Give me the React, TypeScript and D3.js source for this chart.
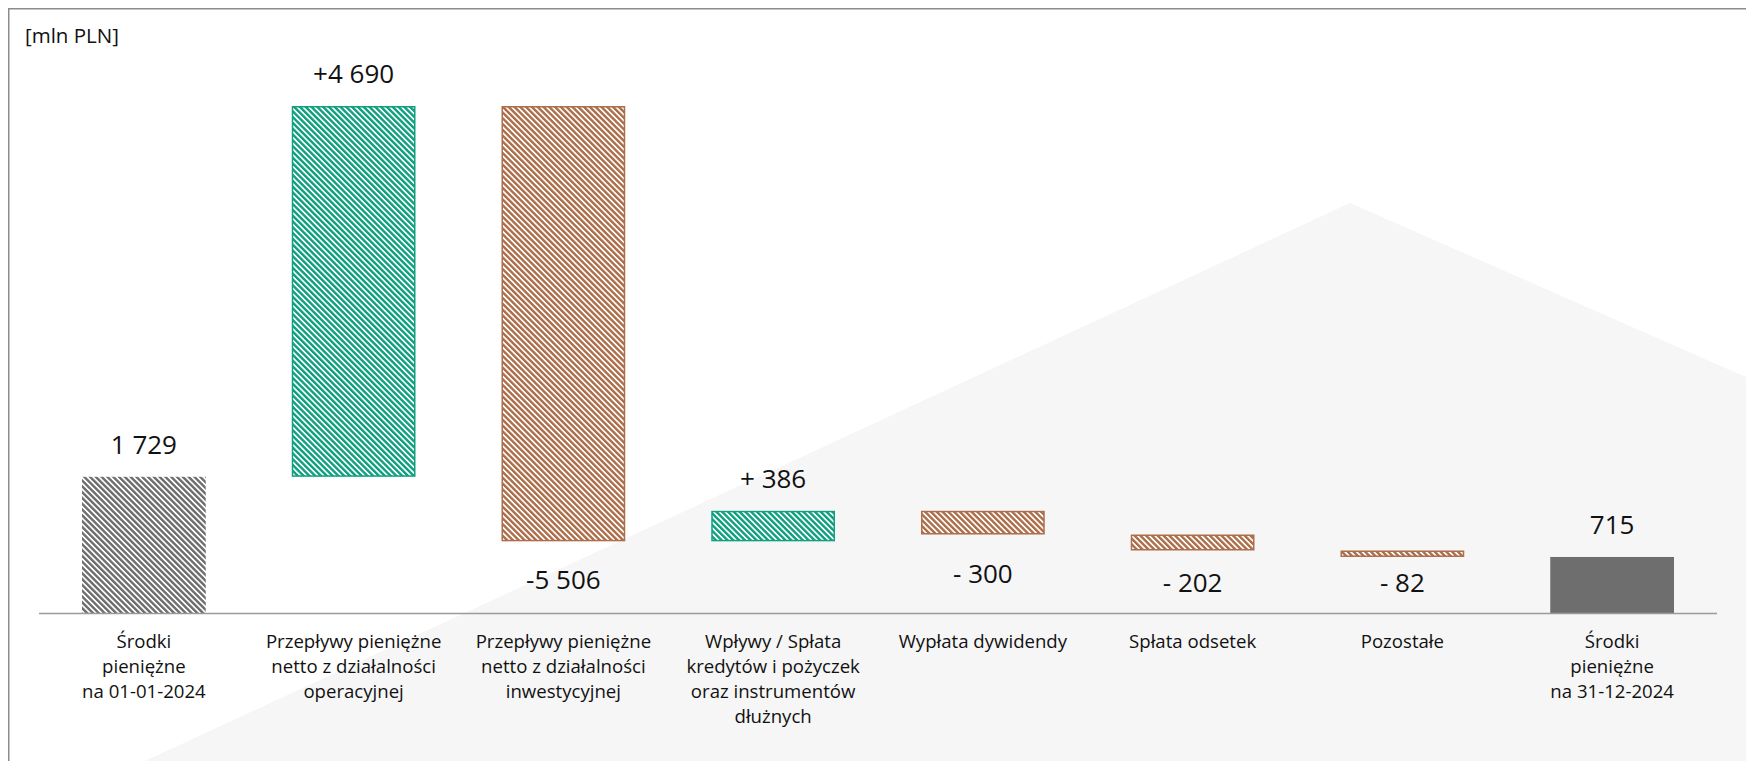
import React from "react";
import * as d3 from "d3";

const categories: string[][] = [
  ["Środki", "pieniężne", "na 01-01-2024"],
  ["Przepływy pieniężne", "netto z działalności", "operacyjnej"],
  ["Przepływy pieniężne", "netto z działalności", "inwestycyjnej"],
  ["Wpływy / Spłata", "kredytów i pożyczek", "oraz instrumentów", "dłużnych"],
  ["Wypłata dywidendy"],
  ["Spłata odsetek"],
  ["Pozostałe"],
  ["Środki", "pieniężne", "na 31-12-2024"],
];
const values: number[] = [1729, 4690, -5506, 386, -300, -202, -82, 715];
const kinds: string[] = ["start", "delta", "delta", "delta", "delta", "delta", "delta", "end"];
const valueLabels: string[] = ["1 729", "+4 690", "-5 506", "+ 386", "- 300", "- 202", "- 82", "715"];
const unitLabel = "[mln PLN]";

const W = 1746;
const H = 761;
const FONT = "'Open Sans', 'Noto Sans', sans-serif";
const GREEN = "#0fa080";
const BROWN = "#ad6e4a";
const GREY = "#6e6e6e";

export default function App() {
  let cum = 0;
  const segs = values.map((v, i) => {
    let y0: number, y1: number;
    if (kinds[i] === "delta") {
      y0 = cum;
      y1 = cum + v;
      cum = y1;
    } else {
      y0 = 0;
      y1 = v;
      cum = v;
    }
    return { i, v, lo: Math.min(y0, y1), hi: Math.max(y0, y1), kind: kinds[i] };
  });
  const maxVal = d3.max(segs, (s) => s.hi) as number;

  const x = d3
    .scaleBand<number>()
    .domain(values.map((_, i) => i))
    .range([39, 1717])
    .paddingInner(0.41)
    .paddingOuter(0.205);
  const y = d3.scaleLinear().domain([0, maxVal]).range([613.5, 106]);

  const fillFor = (s: { v: number; kind: string }) => {
    if (s.kind === "start") return "url(#hatch-grey)";
    if (s.kind === "end") return GREY;
    return s.v >= 0 ? "url(#hatch-green)" : "url(#hatch-brown)";
  };
  const strokeFor = (s: { v: number; kind: string }) => {
    if (s.kind === "delta") return s.v >= 0 ? GREEN : BROWN;
    return "none";
  };

  const bgPoly: [number, number][] = [
    [145, 761],
    [1350, 203],
    [1746, 377],
    [1746, 761],
  ];

  return (
    <svg
      width={W}
      height={H}
      style={{ position: "fixed", left: 0, top: 0, background: "#ffffff" }}
      fontFamily={FONT}
    >
      <defs>
        {[
          ["hatch-grey", GREY],
          ["hatch-green", GREEN],
          ["hatch-brown", BROWN],
        ].map(([id, c]) => (
          <pattern
            key={id}
            id={id}
            patternUnits="userSpaceOnUse"
            width={4.1}
            height={4.1}
            patternTransform="rotate(-45)"
          >
            <rect x={0} y={0} width={4.1} height={4.1} fill="#ffffff" />
            <rect x={0} y={0} width={2.4} height={4.1} fill={c} />
          </pattern>
        ))}
      </defs>
      <rect x={0} y={0} width={W} height={H} fill="#ffffff" />
      <polygon points={bgPoly.map((p) => p.join(",")).join(" ")} fill="#f6f6f6" />
      <path d={`M8.75,${H} L8.75,8.75 L${W},8.75`} fill="none" stroke="#8c8c8c" strokeWidth={1.5} />

      <text x={25} y={43} fontSize={20.5} fill="#111111">
        {unitLabel}
      </text>

      {segs.map((s) => {
        const bx = x(s.i) as number;
        const bw = x.bandwidth();
        const top = y(s.hi);
        const bot = y(s.lo);
        const stroke = strokeFor(s);
        const hasStroke = stroke !== "none";
        return (
          <rect
            key={s.i}
            x={hasStroke ? bx + 0.75 : bx}
            y={hasStroke ? top + 0.75 : top}
            width={hasStroke ? bw - 1.5 : bw}
            height={hasStroke ? Math.max(bot - top - 1.5, 0.5) : bot - top}
            fill={fillFor(s)}
            stroke={stroke}
            strokeWidth={hasStroke ? 1.5 : 0}
          />
        );
      })}

      <line x1={39} x2={1717} y1={613.5} y2={613.5} stroke="#9a9a9a" strokeWidth={1.5} />

      {segs.map((s) => {
        const cx = (x(s.i) as number) + x.bandwidth() / 2;
        const top = y(s.hi);
        const bot = y(s.lo);
        const positive = s.kind !== "delta" || s.v >= 0;
        const ly = positive ? top - 23 : Math.min(bot + 48, 592);
        return (
          <text key={"v" + s.i} x={cx} y={ly} fontSize={26} textAnchor="middle" fill="#111111">
            {valueLabels[s.i]}
          </text>
        );
      })}

      {categories.map((lines, i) => {
        const cx = (x(i) as number) + x.bandwidth() / 2;
        return (
          <text key={"c" + i} x={cx} y={648} fontSize={18.6} textAnchor="middle" fill="#111111">
            {lines.map((ln, j) => (
              <tspan key={j} x={cx} y={648 + j * 25}>
                {ln}
              </tspan>
            ))}
          </text>
        );
      })}
    </svg>
  );
}
